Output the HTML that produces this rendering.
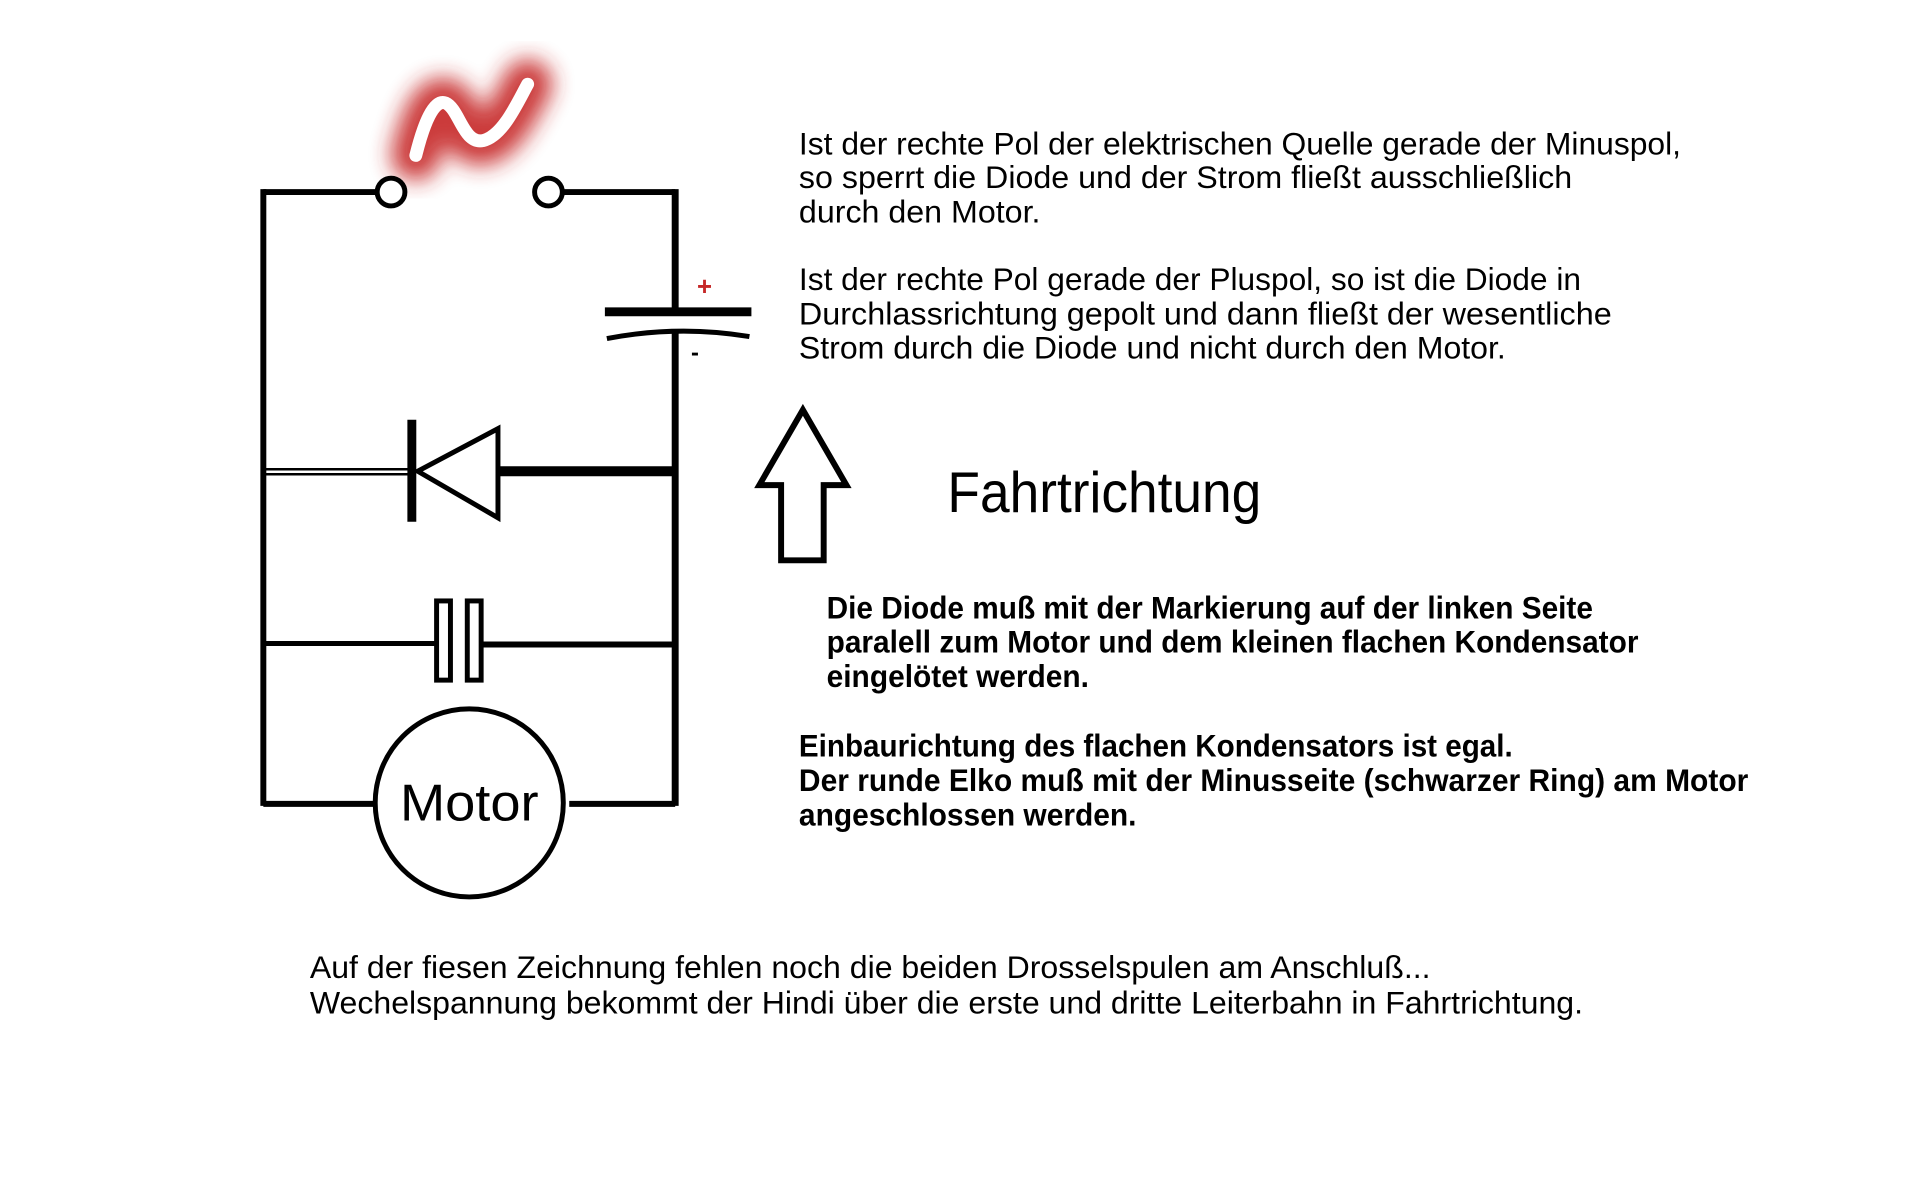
<!DOCTYPE html>
<html><head><meta charset="utf-8"><style>
html,body{margin:0;padding:0;background:#fff;}
svg{display:block;}
text{font-family:"Liberation Sans",sans-serif;fill:#000;}
</style></head><body>
<svg width="1920" height="1200" viewBox="0 0 1920 1200" xmlns="http://www.w3.org/2000/svg">
<defs>
<filter id="blur" x="-60%" y="-60%" width="220%" height="220%"><feGaussianBlur stdDeviation="11"/></filter>
</defs>
<g transform="scale(0.99)">
<path d="M420,157 C428,125 438,100 450,104 C464,110 468,146 488,142 C508,137 522,105 533,85" fill="none" stroke="#c62828" stroke-width="50" stroke-linecap="round" filter="url(#blur)" opacity="0.9"/>
<path d="M420,157 C428,125 438,100 450,104 C464,110 468,146 488,142 C508,137 522,105 533,85" fill="none" stroke="#fff" stroke-width="13" stroke-linecap="round"/>
<g stroke="#000" fill="none">
<line x1="266" y1="194" x2="381" y2="194" stroke-width="6"/>
<line x1="568" y1="194" x2="682" y2="194" stroke-width="6"/>
<circle cx="395" cy="194" r="14" stroke-width="5" fill="#fff"/>
<circle cx="554" cy="194" r="14" stroke-width="5" fill="#fff"/>
<line x1="266" y1="191" x2="266" y2="814" stroke-width="6"/>
<line x1="682" y1="191" x2="682" y2="314" stroke-width="7"/>
<line x1="682" y1="336" x2="682" y2="814" stroke-width="7"/>
<line x1="611" y1="315" x2="759" y2="315" stroke-width="9"/>
<path d="M613,342 Q685,328 757,340" stroke-width="5"/>
<line x1="266" y1="474" x2="414" y2="474" stroke-width="2.5"/>
<line x1="266" y1="479" x2="414" y2="479" stroke-width="2.5"/>
<line x1="416" y1="424" x2="416" y2="527" stroke-width="9"/>
<polygon points="422,476 503,433 503,523" stroke-width="5" fill="#fff"/>
<line x1="503" y1="476" x2="682" y2="476" stroke-width="10"/>
<line x1="266" y1="650" x2="441" y2="650" stroke-width="5"/>
<line x1="487" y1="651" x2="682" y2="651" stroke-width="6"/>
<rect x="441" y="607" width="14" height="80" stroke-width="5"/>
<rect x="472" y="607" width="14" height="80" stroke-width="5"/>
<line x1="266" y1="812" x2="379" y2="812" stroke-width="6"/>
<line x1="575" y1="812" x2="682" y2="812" stroke-width="6"/>
<circle cx="474" cy="811" r="95" stroke-width="5" fill="#fff"/>
<polygon points="811,414 855,490 832,490 832,566 789,566 789,490 767,490" stroke-width="6" fill="#fff"/>
</g>
<text x="704" y="298" font-size="26" font-weight="bold" style="fill:#c62828">+</text>
<text x="698" y="364" font-size="24" font-weight="bold">-</text>
<text x="404" y="829" font-size="52" textLength="140" lengthAdjust="spacingAndGlyphs">Motor</text>

<g font-size="32">
<text x="807" y="156" textLength="891" lengthAdjust="spacingAndGlyphs">Ist der rechte Pol der elektrischen Quelle gerade der Minuspol,</text>
<text x="807" y="190" textLength="781" lengthAdjust="spacingAndGlyphs">so sperrt die Diode und der Strom fließt ausschließlich</text>
<text x="807" y="225" textLength="244" lengthAdjust="spacingAndGlyphs">durch den Motor.</text>
<text x="807" y="293" textLength="790" lengthAdjust="spacingAndGlyphs">Ist der rechte Pol gerade der Pluspol, so ist die Diode in</text>
<text x="807" y="328" textLength="821" lengthAdjust="spacingAndGlyphs">Durchlassrichtung gepolt und dann fließt der wesentliche</text>
<text x="807" y="362" textLength="714" lengthAdjust="spacingAndGlyphs">Strom durch die Diode und nicht durch den Motor.</text>
</g>
<text x="957" y="517" font-size="58" textLength="317" lengthAdjust="spacingAndGlyphs">Fahrtrichtung</text>
<g font-size="32" font-weight="bold">
<text x="835" y="625" textLength="774" lengthAdjust="spacingAndGlyphs">Die Diode muß mit der Markierung auf der linken Seite</text>
<text x="835" y="659" textLength="820" lengthAdjust="spacingAndGlyphs">paralell zum Motor und dem kleinen flachen Kondensator</text>
<text x="835" y="694" textLength="265" lengthAdjust="spacingAndGlyphs">eingelötet werden.</text>
<text x="807" y="764" textLength="721" lengthAdjust="spacingAndGlyphs">Einbaurichtung des flachen Kondensators ist egal.</text>
<text x="807" y="799" textLength="959" lengthAdjust="spacingAndGlyphs">Der runde Elko muß mit der Minusseite (schwarzer Ring) am Motor</text>
<text x="807" y="834" textLength="341" lengthAdjust="spacingAndGlyphs">angeschlossen werden.</text>
</g>
<g font-size="32">
<text x="313" y="988" textLength="1132" lengthAdjust="spacingAndGlyphs">Auf der fiesen Zeichnung fehlen noch die beiden Drosselspulen am Anschluß...</text>
<text x="313" y="1024" textLength="1286" lengthAdjust="spacingAndGlyphs">Wechelspannung bekommt der Hindi über die erste und dritte Leiterbahn in Fahrtrichtung.</text>
</g>
</g>
</svg>
</body></html>
